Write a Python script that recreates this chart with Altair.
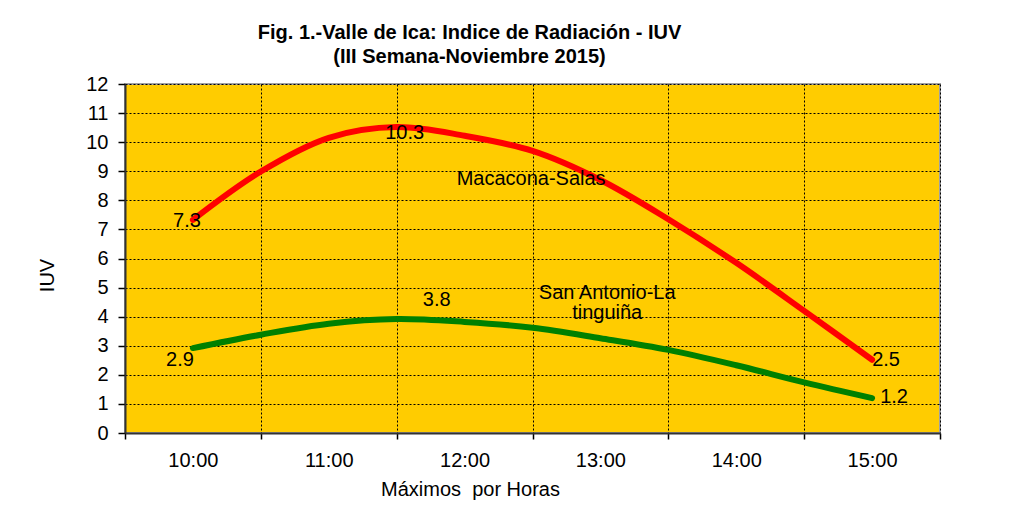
import altair as alt
import pandas as pd

# ---- data ----
times = ["10:00", "10:30", "11:00", "11:30", "12:00", "12:30",
         "13:00", "13:30", "14:00", "14:30", "15:00"]
macacona = [7.33, 8.99, 10.15, 10.52, 10.22, 9.7, 8.7, 7.35, 5.85, 4.2, 2.52]
san_antonio = [2.92, 3.38, 3.76, 3.92, 3.82, 3.62, 3.26, 2.86, 2.33, 1.74, 1.2]
series_names = ["Macacona-Salas", "San Antonio-La tinguiña"]
series_colors = ["#FF0000", "#008000"]

label_series = ["Macacona-Salas", "Macacona-Salas", "Macacona-Salas",
                "San Antonio-La tinguiña", "San Antonio-La tinguiña", "San Antonio-La tinguiña"]
label_times = ["10:00", "11:30", "15:00", "10:00", "11:30", "15:00"]
label_texts = ["7.3", "10.3", "2.5", "2.9", "3.8", "1.2"]

x_tick_hours = [9.5, 10.5, 11.5, 12.5, 13.5, 14.5, 15.5]
y_ticks = list(range(0, 13))

FONT = "Liberation Sans"
FS = 20


def to_hours(t):
    h, m = t.split(":")
    return int(h) + int(m) / 60.0


rows = []
for name, vals in zip(series_names, [macacona, san_antonio]):
    for t, v in zip(times, vals):
        rows.append({"hora": to_hours(t), "serie": name, "iuv": v})
df = pd.DataFrame(rows)

x_enc = alt.X(
    "hora:Q",
    scale=alt.Scale(domain=[9.5, 15.5], nice=False, zero=False),
    axis=alt.Axis(
        values=x_tick_hours,
        labelExpr="datum.value < 15 ? floor(datum.value + 0.5) + ':00' : ''",
        labelOffset=67.9,
        labelFlush=False,
        labelOverlap=False,
        labelFont=FONT, labelFontSize=FS, labelColor="black",
        labelPadding=11,
        tickSize=6, tickColor="black", tickWidth=1.5,
        domainColor="#333333", domainWidth=2,
        grid=True, gridColor="black", gridDash=[2, 2], gridWidth=1,
        title="Máximos\u00a0 por Horas",
        titleFont=FONT, titleFontSize=FS, titleFontWeight="normal", titleColor="black",
        titleX=345, titleY=46, titleAlign="center", titleBaseline="top",
    ),
)
y_enc = alt.Y(
    "iuv:Q",
    scale=alt.Scale(domain=[0, 12], nice=False),
    axis=alt.Axis(
        values=y_ticks,
        labelOverlap=False,
        labelFont=FONT, labelFontSize=FS, labelColor="black",
        labelPadding=10,
        tickSize=7, tickColor="black", tickWidth=1.5,
        domainColor="#333333", domainWidth=2,
        grid=True, gridColor="black", gridDash=[2, 2], gridWidth=1,
        title="IUV",
        titleFont=FONT, titleFontSize=FS, titleFontWeight="normal", titleColor="black",
        titleX=-78, titleY=191, titleAlign="center", titleBaseline="middle", titleAngle=-90,
    ),
)
color_enc = alt.Color(
    "serie:N",
    scale=alt.Scale(domain=series_names, range=series_colors),
    legend=None,
)

lines = alt.Chart(df).mark_line(
    strokeWidth=6, strokeCap="round", interpolate="catmull-rom"
).encode(x=x_enc, y=y_enc, color=color_enc)

# data labels (offsets are styling only)
label_offsets = [(-6, 0), (8, 0), (14, 0), (-13, 11), (40, -22), (22, -1)]
layers = [lines]
for s, t, txt, (dx, dy) in zip(label_series, label_times, label_texts, label_offsets):
    ldf = pd.DataFrame([{"hora": to_hours(t), "iuv": float(txt), "txt": txt, "serie": s}])
    layers.append(
        alt.Chart(ldf).mark_text(
            font=FONT, fontSize=FS, color="black", dx=dx, dy=dy,
            align="center", baseline="middle",
        ).encode(x=x_enc, y=y_enc, text="txt:N")
    )

# series name annotations
ann1 = pd.DataFrame([{"hora": 12.49, "iuv": 8.73, "txt": "Macacona-Salas"}])
layers.append(
    alt.Chart(ann1).mark_text(
        font=FONT, fontSize=FS, color="black", align="center", baseline="middle"
    ).encode(x=x_enc, y=y_enc, text="txt:N")
)
ann2 = pd.DataFrame([{"hora": 13.05, "iuv": 4.81}])
layers.append(
    alt.Chart(ann2).mark_text(
        font=FONT, fontSize=FS, color="black", align="center", baseline="middle",
        lineHeight=20,
    ).encode(x=x_enc, y=y_enc, text=alt.value(["San Antonio-La", "tinguiña"]))
)

chart = alt.layer(*layers).properties(
    width=815,
    height=349,
    autosize=alt.AutoSizeParams(type="none"),
    padding={"left": 117, "top": 76, "right": 60, "bottom": 70},
    title=alt.TitleParams(
        text=["Fig. 1.-Valle de Ica: Indice de Radiación - IUV", "(III Semana-Noviembre 2015)"],
        font=FONT, fontSize=FS, fontWeight="bold", color="black",
        anchor="middle", frame="group", dx=-63, offset=7, lineHeight=24,
    ),
).configure_view(
    fill="#FFCC00", stroke="#A0A0A0", strokeWidth=2
)

chart.save("out.html", embed_options={"renderer": "svg", "actions": False})
